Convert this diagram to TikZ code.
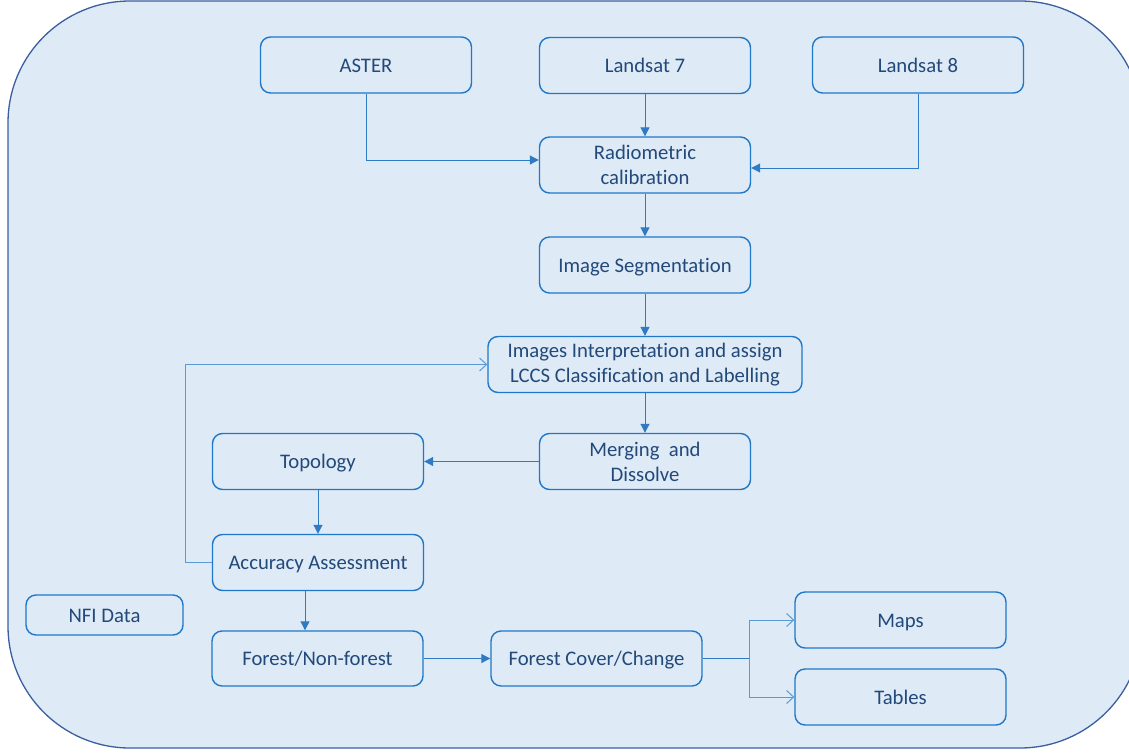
\documentclass[tikz,border=0pt]{standalone}
\usepackage{fontspec}
\setmainfont[Ligatures=CommonOff]{Carlito}
\usetikzlibrary{arrows.meta}
\definecolor{bgfill}{HTML}{DEEAF6}
\definecolor{outerc}{HTML}{3A5F9F}
\definecolor{boxc}{HTML}{1F78C8}
\definecolor{txt}{HTML}{22497A}
\definecolor{linec}{HTML}{2E7BC4}
\definecolor{lightc}{HTML}{5B9BD5}
\tikzset{
  basebox/.style={draw=boxc, line width=1.4pt, rounded corners=10pt,
    minimum width=211pt, minimum height=56pt, align=center, text=txt,
    inner sep=2pt, font=\fontsize{20.7}{25}\selectfont},
  stepbox/.style={basebox, text height=18pt, text depth=4pt},
  twobox/.style={basebox},
  conn/.style={draw=linec, line width=1pt, -{Triangle[length=9pt,width=9pt]}},
  openconn/.style={draw=lightc, line width=1pt, -{Straight Barb[length=7pt,width=13pt]}},
  plainconn/.style={draw=linec, line width=1pt},
}
\begin{document}
\begin{tikzpicture}[x=1pt,y=-1pt]
\useasboundingbox (0,0) rectangle (1129,752);
\clip (0,0) rectangle (1129,752);
\draw[fill=bgfill, draw=outerc, line width=1.3pt, rounded corners=122pt] (8,1) rectangle (1142,748);

\node[stepbox] (aster) at (366,65) {ASTER};
\node[stepbox] (l7) at (645,65.5) {Landsat 7};
\node[stepbox] (l8) at (918,65) {Landsat 8};
\node[twobox] (radio) at (645,165) {Radiometric\\calibration};
\node[stepbox] (seg) at (645,265) {Image Segmentation};
\node[twobox, minimum width=314pt] (interp) at (645,364.5) {Images Interpretation and assign\\LCCS Classification and Labelling};
\node[twobox] (merge) at (645,461.5) {Merging\ \ and\\Dissolve};
\node[stepbox] (topo) at (318,461.5) {Topology};
\node[stepbox] (acc) at (318,562.5) {Accuracy Assessment};
\node[stepbox, minimum width=157pt, minimum height=40pt] (nfi) at (104.5,615) {NFI Data};
\node[stepbox, minimum width=211pt, minimum height=55pt] (fnf) at (317.5,658.5) {Forest/Non-forest};
\node[stepbox, minimum height=55pt] (fcc) at (596.5,658.5) {Forest Cover/Change};
\node[stepbox] (maps) at (900.5,620) {Maps};
\node[stepbox] (tables) at (900.5,697) {Tables};

\coordinate (asterturn) at (366,160);
\coordinate (l8turn) at (918,168);
\coordinate (loopa) at (185,562.5);
\coordinate (loopb) at (185,364.5);
\coordinate (split) at (749,658.5);
\coordinate (splitup) at (749,620);
\coordinate (splitdown) at (749,697);

\draw[conn] (aster.south) -- (asterturn) -- (asterturn -| radio.west);
\draw[conn] (l7.south) -- (radio.north);
\draw[conn] (l8.south -| l8turn) -- (l8turn) -- (l8turn -| radio.east);
\draw[conn] (radio.south) -- (seg.north);
\draw[conn] (seg.south) -- (interp.north);
\draw[conn] (interp.south) -- (merge.north);
\draw[conn] (merge.west) -- (topo.east);
\draw[conn] (topo.south) -- (acc.north);
\draw[openconn] (acc.west) -- (loopa) -- (loopb) -- (interp.west);
\draw[conn] ([xshift=-13pt]acc.south) -- ([xshift=-12.5pt]fnf.north);
\draw[conn] (fnf.east) -- (fcc.west);
\draw[plainconn] (fcc.east) -- (split);
\draw[openconn] (split) -- (splitup) -- (maps.west);
\draw[openconn] (split) -- (splitdown) -- (tables.west);
\end{tikzpicture}
\end{document}
